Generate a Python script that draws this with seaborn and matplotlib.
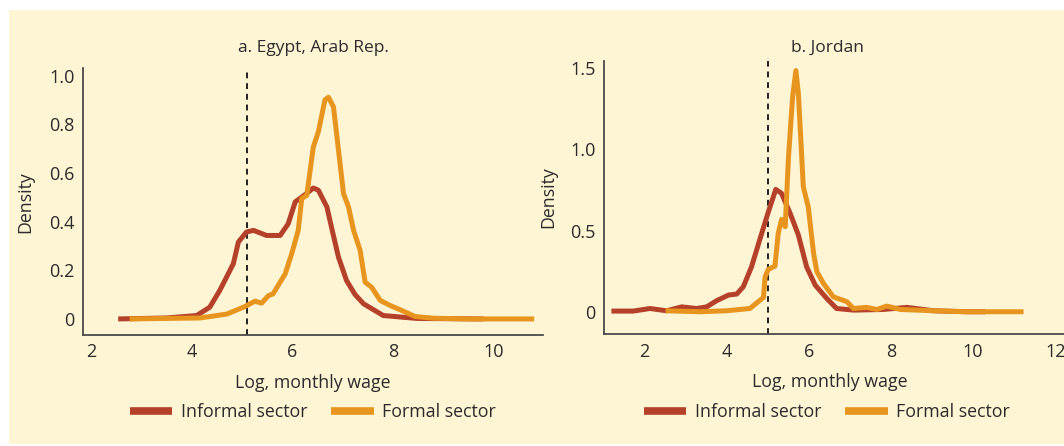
import matplotlib

matplotlib.use("Agg")  # no display
import matplotlib.pyplot as plt
import pandas as pd
import seaborn as sns
from matplotlib.patches import Rectangle

# --- data ---
egypt_informal_x = [2.54, 3.5, 4.10, 4.36, 4.56, 4.83, 4.93, 5.09, 5.23, 5.49, 5.76, 5.92, 6.06,
                    6.25, 6.42, 6.52, 6.69, 6.80, 6.92, 7.08, 7.25, 7.42, 7.81, 8.48, 9.8]
egypt_informal_y = [0, 0.004, 0.014, 0.048, 0.117, 0.227, 0.316, 0.357, 0.364, 0.343, 0.343, 0.391, 0.481,
                    0.51, 0.538, 0.529, 0.46, 0.36, 0.254, 0.158, 0.10, 0.062, 0.014, 0.002, 0]
egypt_formal_x = [2.77, 4.17, 4.70, 4.90, 5.06, 5.26, 5.39, 5.53, 5.62, 5.76, 5.86, 5.99, 6.12, 6.19,
                  6.29, 6.42, 6.52, 6.65, 6.72, 6.82, 6.92, 7.02, 7.12, 7.22, 7.35, 7.45, 7.58, 7.75,
                  7.95, 8.21, 8.44, 8.81, 9.47, 10.81]
egypt_formal_y = [0, 0.004, 0.02, 0.037, 0.051, 0.073, 0.065, 0.096, 0.103, 0.151, 0.185, 0.268, 0.364, 0.495,
                  0.508, 0.707, 0.769, 0.90, 0.911, 0.872, 0.694, 0.515, 0.46, 0.364, 0.282, 0.151, 0.13, 0.076,
                  0.055, 0.032, 0.01, 0.003, 0, 0]

jordan_informal_x = [1.20, 1.73, 2.14, 2.54, 2.91, 3.27, 3.52, 3.76, 4.05, 4.25, 4.41, 4.61, 4.82, 5.02,
                     5.20, 5.34, 5.55, 5.75, 5.95, 6.16, 6.44, 6.68, 7.09, 7.82, 8.39, 9.04, 9.85, 10.3]
jordan_informal_y = [0.004, 0.004, 0.02, 0.006, 0.03, 0.02, 0.03, 0.068, 0.103, 0.109, 0.154, 0.277, 0.452, 0.616,
                     0.754, 0.73, 0.606, 0.473, 0.277, 0.164, 0.082, 0.02, 0.01, 0.014, 0.027, 0.006, 0, 0]
jordan_formal_x = [2.52, 3.36, 4.0, 4.57, 4.74, 4.90, 4.94, 5.02, 5.18, 5.26, 5.34, 5.43, 5.51, 5.61, 5.69,
                   5.75, 5.87, 5.99, 6.12, 6.20, 6.36, 6.60, 6.93, 7.09, 7.41, 7.66, 7.90, 8.23, 9.04, 9.85, 11.23]
jordan_formal_y = [0.006, 0, 0.006, 0.02, 0.055, 0.088, 0.216, 0.261, 0.281, 0.483, 0.569, 0.524, 0.955, 1.325,
                   1.486, 1.346, 0.77, 0.647, 0.36, 0.247, 0.175, 0.092, 0.062, 0.02, 0.027, 0.014, 0.035, 0.014,
                   0.006, 0, 0]

egypt_cutoff = 5.11
jordan_cutoff = 5.02

BG = "#FDF5D4"
RED = "#B5412B"
ORANGE = "#E8951F"
INK = "#2B2B2B"
SPINE = "#4A4A4A"

sns.set_style("white")
plt.rcParams["font.family"] = ["Open Sans", "DejaVu Sans"]
plt.rcParams["font.size"] = 12

fig = plt.figure(figsize=(10.64, 4.46), dpi=100, facecolor="white")
fig.patches.append(Rectangle((9 / 1064, 2 / 446), 1, 434 / 446, transform=fig.transFigure,
                             facecolor=BG, edgecolor="none", zorder=-10))

ax_a = fig.add_axes([82.7 / 1064, 1 - 335 / 446, 460 / 1064, 266.7 / 446])
ax_b = fig.add_axes([604 / 1064, 1 - 334.3 / 446, 466 / 1064, 273.6 / 446])


def draw_panel(ax, title, title_px, inf_x, inf_y, for_x, for_y, cutoff):
    ax.set_facecolor("none")
    inf = pd.DataFrame({"x": inf_x, "y": inf_y})
    frm = pd.DataFrame({"x": for_x, "y": for_y})
    sns.lineplot(data=inf, x="x", y="y", ax=ax, color=RED, linewidth=3.6,
                 sort=False, estimator=None, label="Informal sector",
                 solid_joinstyle="round", solid_capstyle="butt")
    sns.lineplot(data=frm, x="x", y="y", ax=ax, color=ORANGE, linewidth=3.6,
                 sort=False, estimator=None, label="Formal sector",
                 solid_joinstyle="round", solid_capstyle="butt")
    ax.axvline(cutoff, color="#222222", linestyle=(0, (3, 2.5)), linewidth=1.4, zorder=1)

    for side in ["top", "right"]:
        ax.spines[side].set_visible(False)
    for side in ["left", "bottom"]:
        ax.spines[side].set_color(SPINE)
        ax.spines[side].set_linewidth(1.3)
    ax.tick_params(direction="in", length=6, width=1.1, color=SPINE,
                   labelcolor=INK, labelsize=13, pad=6)
    ax.set_xlabel("Log, monthly wage", fontsize=12.8, color=INK)
    ax.set_ylabel("Density", fontsize=12.8, color=INK)
    fig.text(title_px / 1064, 1 - 48 / 446, title, ha="center", va="center",
             fontsize=12.5, color=INK)
    leg = ax.legend(loc="center", bbox_to_anchor=(title_px / 1064, 1 - 412 / 446),
                    bbox_transform=fig.transFigure, ncol=2, frameon=False,
                    fontsize=12.8, handlelength=2.4, handletextpad=0.5, columnspacing=1.3,
                    labelcolor=INK)
    for line in leg.get_lines():
        line.set_linewidth(5.5)
        line.set_solid_capstyle("butt")


draw_panel(ax_a, "a. Egypt, Arab Rep.", 313, egypt_informal_x, egypt_informal_y,
           egypt_formal_x, egypt_formal_y, egypt_cutoff)
ax_a.set_xlim(1.835, 10.98)
ax_a.set_ylim(-0.066, 1.03)
ax_a.set_xticks([2, 4, 6, 8, 10])
ax_a.set_yticks([0, 0.2, 0.4, 0.6, 0.8, 1.0])
ax_a.set_yticklabels(["0", "0.2", "0.4", "0.6", "0.8", "1.0"])
ax_a.yaxis.set_label_coords(-0.106, 0.5)
ax_a.xaxis.set_label_coords(0.5, -0.145)

draw_panel(ax_b, "b. Jordan", 827, jordan_informal_x, jordan_informal_y,
           jordan_formal_x, jordan_formal_y, jordan_cutoff)
ax_b.set_xlim(1.02, 12.36)
ax_b.set_ylim(-0.139, 1.547)
ax_b.set_xticks([2, 4, 6, 8, 10, 12])
ax_b.set_yticks([0, 0.5, 1.0, 1.5])
ax_b.set_yticklabels(["0", "0.5", "1.0", "1.5"])
ax_b.yaxis.set_label_coords(-0.10, 0.5)
ax_b.xaxis.set_label_coords((830 - 604) / 466, -0.14)

fig.savefig("out.png", dpi=100, facecolor="white")
